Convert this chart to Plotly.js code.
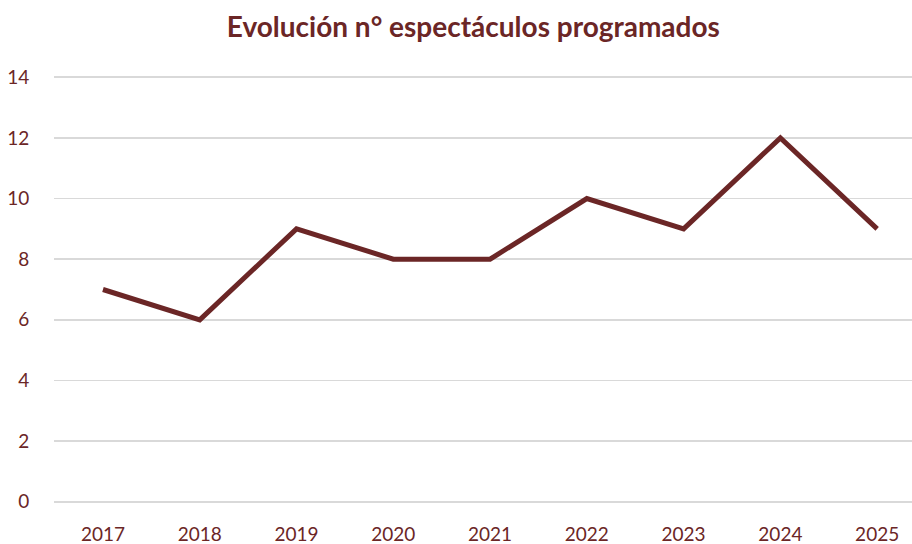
<!DOCTYPE html>
<html><head><meta charset="utf-8">
<script src="https://cdn.plot.ly/plotly-3.0.1.min.js"></script>
<style>body{margin:0;padding:0;background:#fff}#c{width:912px;height:544px}</style>
</head><body><div id="c"></div>
<script>
const years = ["2017","2018","2019","2020","2021","2022","2023","2024","2025"];
const espectaculos = [7, 6, 9, 8, 8, 10, 9, 12, 9];
const yTicks = [0, 2, 4, 6, 8, 10, 12, 14];

const color = "#6B2626";
const fontFam = "Lato, 'Open Sans', sans-serif";

Plotly.newPlot("c", [{
  x: years, y: espectaculos, type: "scatter", mode: "lines",
  line: {color: color, width: 5, shape: "linear"},
  hoverinfo: "skip"
}], {
  width: 912, height: 544,
  margin: {l: 54, r: 0, t: 76, b: 41},
  paper_bgcolor: "#fff", plot_bgcolor: "#fff",
  showlegend: false,
  title: {text: "<b>Evolución n° espectáculos programados</b>", x: 0.519, xanchor: "center", y: 0.95, yanchor: "middle",
    font: {family: fontFam, size: 28, color: color}},
  xaxis: {type: "category", range: [-0.506, 8.36], showgrid: false, zeroline: false, showline: false,
    ticks: "outside", ticklen: 14, tickcolor: "rgba(0,0,0,0)",
    tickfont: {family: fontFam, size: 19, color: color}, fixedrange: true},
  yaxis: {range: [-0.04, 14.04], tickvals: yTicks, showgrid: true, gridcolor: "#d9d9d9", gridwidth: 1.6,
    zeroline: false, showline: false, ticks: "outside", ticklen: 20, tickcolor: "rgba(0,0,0,0)",
    tickfont: {family: fontFam, size: 19, color: color}, fixedrange: true}
}, {staticPlot: true});
</script></body></html>
